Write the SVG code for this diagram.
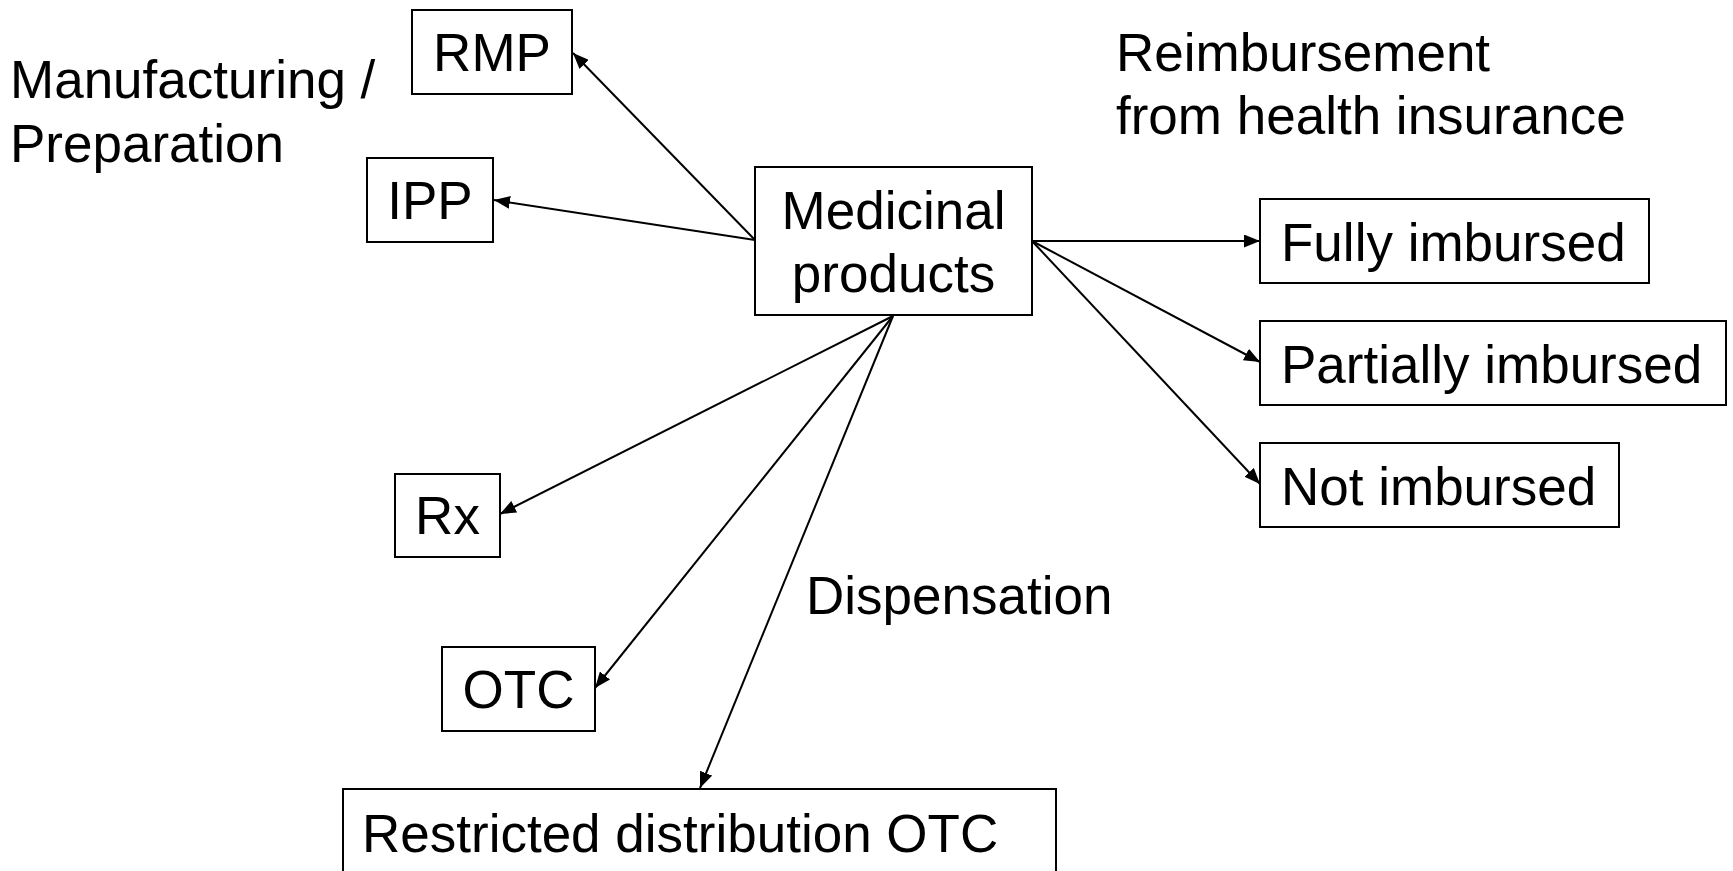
<svg xmlns="http://www.w3.org/2000/svg" width="1733" height="871" viewBox="0 0 1733 871">
<style>
.box{fill:#fff;stroke:#000;stroke-width:2}
.t{font-family:"Liberation Sans",Arial,sans-serif;font-size:53px;fill:#000}
.c{text-anchor:middle}
.edge{stroke:#000;stroke-width:2;fill:none;marker-end:url(#arr)}
</style>
<defs>
<marker id="arr" markerUnits="userSpaceOnUse" markerWidth="17" markerHeight="13" refX="16" refY="6.5" orient="auto">
<path d="M0,0 L16,6.5 L0,13 z" fill="#000"/>
</marker>
</defs>
<rect width="1733" height="871" fill="#fff"/>
<g id="labels">
<text class="t" x="10" y="98">Manufacturing /</text>
<text class="t" x="10" y="162">Preparation</text>
<text class="t" x="1116" y="71">Reimbursement</text>
<text class="t" x="1116" y="134">from health insurance</text>
<text class="t" x="806" y="614">Dispensation</text>
</g>
<g id="connectors">
<line class="edge" x1="755" y1="240" x2="573" y2="53"/>
<line class="edge" x1="755" y1="240" x2="494" y2="200"/>
<line class="edge" x1="1032" y1="241" x2="1260" y2="241"/>
<line class="edge" x1="1032" y1="241" x2="1260" y2="362"/>
<line class="edge" x1="1032" y1="241" x2="1260" y2="484"/>
<line class="edge" x1="893" y1="316" x2="500" y2="514"/>
<line class="edge" x1="893" y1="316" x2="595" y2="688"/>
<line class="edge" x1="893" y1="316" x2="700" y2="788"/>
</g>
<g id="node-rmp"><rect class="box" x="412" y="10" width="160" height="84"/><text class="t c" x="492" y="71">RMP</text></g>
<g id="node-ipp"><rect class="box" x="367" y="158" width="126" height="84"/><text class="t c" x="430" y="219">IPP</text></g>
<g id="node-medicinal"><rect class="box" x="755" y="167" width="277" height="148"/><text class="t c" x="893.5" y="229">Medicinal</text><text class="t c" x="893.5" y="292">products</text></g>
<g id="node-fully"><rect class="box" x="1260" y="199" width="389" height="84"/><text class="t" x="1281" y="261">Fully imbursed</text></g>
<g id="node-partially"><rect class="box" x="1260" y="321" width="466" height="84"/><text class="t" x="1281" y="383">Partially imbursed</text></g>
<g id="node-not"><rect class="box" x="1260" y="443" width="359" height="84"/><text class="t" x="1281" y="505">Not imbursed</text></g>
<g id="node-rx"><rect class="box" x="395" y="474" width="105" height="83"/><text class="t c" x="447.5" y="534">Rx</text></g>
<g id="node-otc"><rect class="box" x="442" y="647" width="153" height="84"/><text class="t c" x="518.5" y="708">OTC</text></g>
<g id="node-restricted"><rect class="box" x="343" y="789" width="713" height="90"/><text class="t" x="362" y="852">Restricted distribution OTC</text></g>
</svg>
